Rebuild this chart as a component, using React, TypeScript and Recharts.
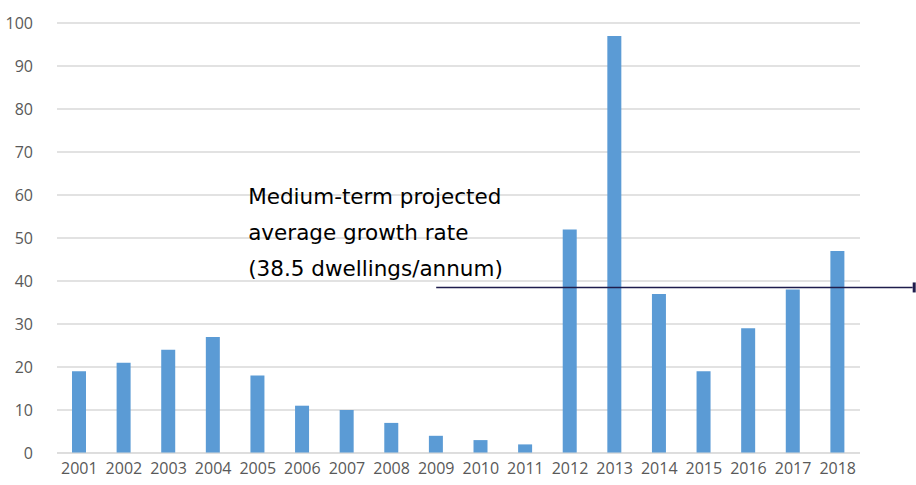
import { Bar, BarChart, CartesianGrid, ReferenceLine, XAxis, YAxis } from 'recharts';

const years = [
  '2001', '2002', '2003', '2004', '2005', '2006', '2007', '2008', '2009',
  '2010', '2011', '2012', '2013', '2014', '2015', '2016', '2017', '2018',
];
const dwellings = [19, 21, 24, 27, 18, 11, 10, 7, 4, 3, 2, 52, 97, 37, 19, 29, 38, 47];
const yTicks = [0, 10, 20, 30, 40, 50, 60, 70, 80, 90, 100];
const projectedRate = 38.5;
const lineStart = '2009';
const noteLines = ['Medium-term projected', 'average growth rate', '(38.5 dwellings/annum)'];

const data = years.map((year, i) => ({ year, value: dwellings[i] }));

const tickStyle = { fontSize: 16, fill: '#595959', fontFamily: 'Open Sans, sans-serif' };

// line runs past the plot to the right edge, ending in a short bar; note sits above-left
function RateLine(props: any) {
  const { x1, y1, x2 } = props;
  const end = x2 + 75;
  const left = x1 - 188;
  const top = y1 - 83;
  return (
    <g>
      <line x1={x1} y1={y1} x2={end} y2={y1} stroke="#1f1d4d" strokeWidth={1.5} />
      <rect x={end} y={y1 - 5} width={3} height={10} fill="#1f1d4d" />
      <text x={left} y={top} fontSize={21.5} fill="#000" fontFamily="DejaVu Sans, Verdana, sans-serif">
        {noteLines.map((line, i) => (
          <tspan key={line} x={left} y={top + i * 36}>
            {line}
          </tspan>
        ))}
      </text>
    </g>
  );
}

export default function App() {
  return (
    <div style={{ position: 'absolute', left: 0, top: 0, background: '#fff' }}>
      <BarChart width={916} height={485} data={data} margin={{ top: 23, right: 56, left: 0, bottom: 0 }}>
        <CartesianGrid stroke="#d9d9d9" strokeWidth={1.3} vertical={false} />
        <XAxis
          dataKey="year"
          tick={tickStyle}
          tickLine={false}
          axisLine={{ stroke: '#d9d9d9' }}
          tickMargin={4}
          height={32}
          interval={0}
        />
        <YAxis
          domain={[0, 100]}
          ticks={yTicks}
          tick={tickStyle}
          tickLine={false}
          axisLine={false}
          tickMargin={18}
          width={57}
        />
        <Bar dataKey="value" fill="#5b9bd5" barSize={14} isAnimationActive={false} />
        <ReferenceLine
          segment={[
            { x: lineStart, y: projectedRate },
            { x: years[years.length - 1], y: projectedRate },
          ]}
          ifOverflow="visible"
          shape={(p: any) => <RateLine {...p} />}
        />
      </BarChart>
    </div>
  );
}
